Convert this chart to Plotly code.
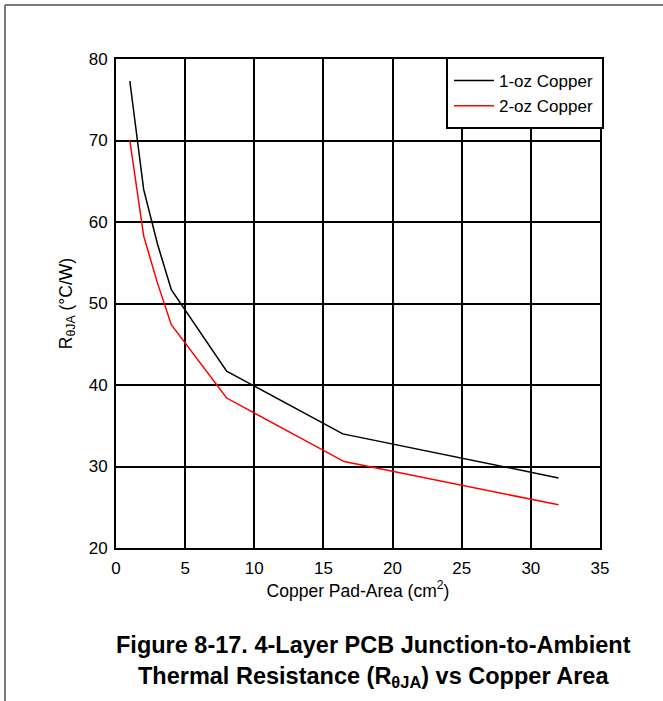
import plotly.graph_objects as go

# copper pad area (cm^2) and R_thetaJA (deg C/W)
area_1oz = [1, 2, 3, 4, 8, 16.4, 32]
rtheta_1oz = [77.3, 64.0, 57.3, 51.7, 41.7, 34.0, 28.6]

area_2oz = [1, 2, 3, 4, 8, 16.5, 32]
rtheta_2oz = [70.0, 58.3, 52.5, 47.4, 38.4, 30.6, 25.3]

W, H = 663, 701
L, R, T, B = 116, 63, 59, 153
pw, ph = W - L - R, H - T - B


def px_x(px):
    return (px - L) / pw


def px_y(py):
    return 1 - (py - T) / ph


font = "Arial, Liberation Sans, sans-serif"

fig = go.Figure()
fig.add_trace(go.Scatter(x=area_1oz, y=rtheta_1oz, mode="lines", name="1-oz Copper",
                         line=dict(color="black", width=1.5)))
fig.add_trace(go.Scatter(x=area_2oz, y=rtheta_2oz, mode="lines", name="2-oz Copper",
                         line=dict(color="red", width=1.5)))

axis_style = dict(showline=True, mirror=True, linecolor="black", linewidth=2,
                  showgrid=True, gridcolor="black", gridwidth=1.5,
                  zeroline=False, ticks="", tickfont=dict(family=font, size=17, color="black"))

fig.update_xaxes(range=[0, 35], dtick=5, ticklabelstandoff=4, **axis_style,
                 title=dict(text="Copper Pad-Area (cm<sup>2</sup>)", standoff=4,
                            font=dict(family=font, size=17.5, color="black")))
fig.update_yaxes(range=[20, 80], dtick=10, ticklabelstandoff=3, **axis_style,
                 title=dict(text="R<sub>θJA</sub> (°C/W)", standoff=12,
                            font=dict(family=font, size=17.5, color="black")))

# outer page frame (left and top edges only)
fig.add_shape(type="line", xref="paper", yref="paper", x0=px_x(5), x1=px_x(5), y0=px_y(5), y1=px_y(701),
              line=dict(color="#7a7a7a", width=2))
fig.add_shape(type="line", xref="paper", yref="paper", x0=px_x(5), x1=px_x(663), y0=px_y(5), y1=px_y(5),
              line=dict(color="#7a7a7a", width=2))

# legend box, drawn over the grid
fig.add_shape(type="rect", xref="paper", yref="paper", layer="above",
              x0=px_x(447), x1=px_x(603), y0=px_y(128), y1=px_y(58),
              fillcolor="white", line=dict(color="black", width=2))

fig.add_annotation(xref="paper", yref="paper", x=px_x(373), y=px_y(661), showarrow=False,
                   xanchor="center", yanchor="middle",
                   text="<b>Figure 8-17. 4-Layer PCB Junction-to-Ambient<br>"
                        "Thermal Resistance (R<sub>θJA</sub>) vs Copper Area</b>",
                   font=dict(family=font, size=23.5, color="black"), align="center")

fig.update_layout(
    width=W, height=H,
    margin=dict(l=L, r=R, t=T, b=B),
    paper_bgcolor="white", plot_bgcolor="white",
    showlegend=True,
    legend=dict(x=px_x(449), y=px_y(63), xanchor="left", yanchor="top",
                bgcolor="rgba(0,0,0,0)", borderwidth=0,
                font=dict(family=font, size=17, color="black"),
                itemwidth=40, tracegroupgap=0),
)

fig.write_html("out.html", config={"displayModeBar": False},
               post_script="document.body.style.margin='0';")
